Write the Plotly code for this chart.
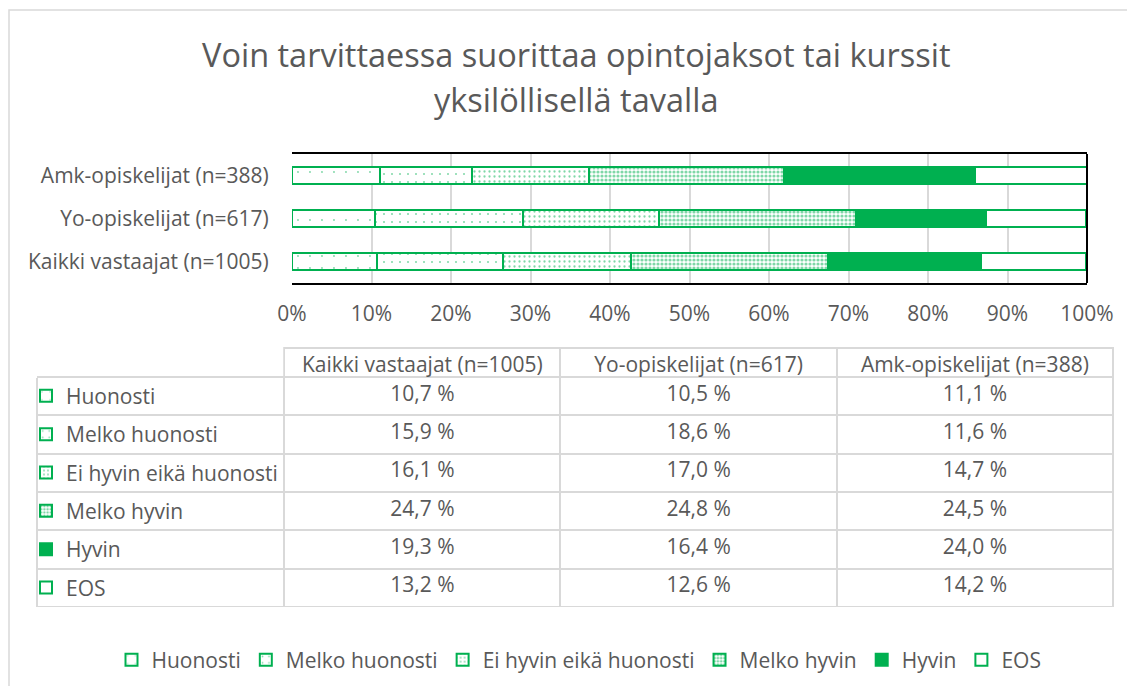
import plotly.graph_objects as go

W, H = 1135, 686

title_lines = ["Voin tarvittaessa suorittaa opintojaksot tai kurssit", "yksilöllisellä tavalla"]

# categories bottom -> top on the y axis
groups = ["Kaikki vastaajat (n=1005)", "Yo-opiskelijat (n=617)", "Amk-opiskelijat (n=388)"]
answers = ["Huonosti", "Melko huonosti", "Ei hyvin eikä huonosti", "Melko hyvin", "Hyvin", "EOS"]

kaikki = [10.7, 15.9, 16.1, 24.7, 19.3, 13.2]
yo = [10.5, 18.6, 17.0, 24.8, 16.4, 12.6]
amk = [11.1, 11.6, 14.7, 24.5, 24.0, 14.2]

x_ticks = [0, 10, 20, 30, 40, 50, 60, 70, 80, 90, 100]

GREEN = "#00B050"
TXT = "#595959"
GRID = "#D9D9D9"
FONT = "Open Sans"
FS = 21

patterns = [
    dict(shape=".", size=12, solidity=0.02, fgcolor=GREEN, bgcolor="white", fillmode="overlay"),
    dict(shape=".", size=8, solidity=0.05, fgcolor=GREEN, bgcolor="white", fillmode="overlay"),
    dict(shape=".", size=5, solidity=0.16, fgcolor=GREEN, bgcolor="white", fillmode="overlay"),
    dict(shape=".", size=4, solidity=0.5, fgcolor=GREEN, bgcolor="white", fillmode="overlay"),
    None,
    None,
]
fills = ["white", "white", "white", "white", GREEN, "white"]

OFF = 8  # page body margin


def px(x):
    return (x - OFF) / W


def py(y):
    return 1 - (y - OFF) / H


def make_marker(i):
    m = dict(color=fills[i], line=dict(color=GREEN, width=2))
    if patterns[i] is not None:
        m["pattern"] = patterns[i]
    return m


fig = go.Figure()

by_group = {groups[0]: kaikki, groups[1]: yo, groups[2]: amk}

for i, ans in enumerate(answers):
    fig.add_trace(go.Bar(
        name=ans,
        orientation="h",
        y=groups,
        x=[by_group[g][i] for g in groups],
        marker=make_marker(i),
        legend="legend",
    ))

# legend entries that label the table rows (bars on a hidden, out-of-range axis)
row_top = 377.0
row_h = 38.33
for i, ans in enumerate(answers):
    fig.add_trace(go.Bar(
        name=ans, orientation="h", x=[1], y=[0], marker=make_marker(i),
        xaxis="x2", yaxis="y2", hoverinfo="skip",
        legend=f"legend{i + 2}", showlegend=True,
    ))


def fmt(v):
    return f"{v:.1f} %".replace(".", ",")


fig.add_trace(go.Table(
    domain=dict(x=[px(37), px(1113)], y=[py(607), py(348)]),
    columnwidth=[247, 276, 276, 276],
    header=dict(
        values=[""] + groups,
        height=29,
        align="center",
        fill_color="white",
        line=dict(color=["white", GRID, GRID, GRID], width=2),
        font=dict(family=FONT, size=FS, color=TXT),
    ),
    cells=dict(
        values=[[""] * len(answers), [fmt(v) for v in kaikki], [fmt(v) for v in yo], [fmt(v) for v in amk]],
        height=row_h,
        align="center",
        fill_color="white",
        line=dict(color=GRID, width=2),
        font=dict(family=FONT, size=FS, color=TXT),
    ),
))

layout_legends = {}
for i, ans in enumerate(answers):
    layout_legends[f"legend{i + 2}"] = dict(
        x=px(26), xanchor="left",
        y=py(row_top + row_h * (i + 0.5)), yanchor="middle",
        bgcolor="rgba(0,0,0,0)", borderwidth=0,
        font=dict(family=FONT, size=FS, color=TXT),
    )

title_ann = [
    dict(text=line, x=px(576), y=py(yc), xref="paper", yref="paper",
         xanchor="center", yanchor="middle", showarrow=False,
         font=dict(family=FONT, size=32.5, color=TXT))
    for line, yc in zip(title_lines, [55, 100])
]

fig.update_layout(
    width=W, height=H,
    margin=dict(l=0, r=0, t=0, b=0),
    paper_bgcolor="white", plot_bgcolor="white",
    barmode="stack", bargap=0.59,
    font=dict(family=FONT, color=TXT, size=FS),
    showlegend=True,
    legend=dict(
        orientation="h", traceorder="normal",
        x=px(579), xanchor="center", y=py(660), yanchor="middle",
        font=dict(family=FONT, size=FS, color=TXT), bgcolor="rgba(0,0,0,0)",
    ),
    xaxis=dict(
        domain=[px(292), px(1087)], range=[0, 100],
        tickvals=x_ticks, ticktext=[f"{t}%" for t in x_ticks],
        showgrid=True, gridcolor=GRID, gridwidth=1.5, zeroline=False,
        showline=True, linecolor="black", linewidth=2, mirror=True,
        ticks="outside", ticklen=11, tickcolor="rgba(0,0,0,0)",
        tickfont=dict(family=FONT, size=FS, color=TXT),
        fixedrange=True, automargin=False,
    ),
    yaxis=dict(
        domain=[py(283), py(154)],
        categoryorder="array", categoryarray=groups,
        showgrid=False, showline=False, zeroline=False,
        ticks="outside", ticklen=18, tickcolor="rgba(0,0,0,0)",
        tickfont=dict(family=FONT, size=FS, color=TXT),
        fixedrange=True, automargin=False,
    ),
    xaxis2=dict(domain=[0, 0.01], range=[10, 11], visible=False, anchor="y2", fixedrange=True),
    yaxis2=dict(domain=[0, 0.01], range=[10, 11], visible=False, anchor="x2", fixedrange=True),
    annotations=title_ann,
    shapes=[
        dict(type="rect", xref="paper", yref="paper", x0=px(9), x1=px(1160), y0=py(10), y1=py(720),
             line=dict(color=GRID, width=1.5), layer="below"),
        dict(type="line", xref="x domain", yref="y domain", x0=1, x1=1, y0=0, y1=1,
             line=dict(color="black", width=2)),
        dict(type="line", xref="paper", yref="paper", x0=px(37), x1=px(285), y0=py(row_top), y1=py(row_top),
             line=dict(color=GRID, width=2), layer="above"),
    ],
    **layout_legends,
)

fig.write_html("out.html")
